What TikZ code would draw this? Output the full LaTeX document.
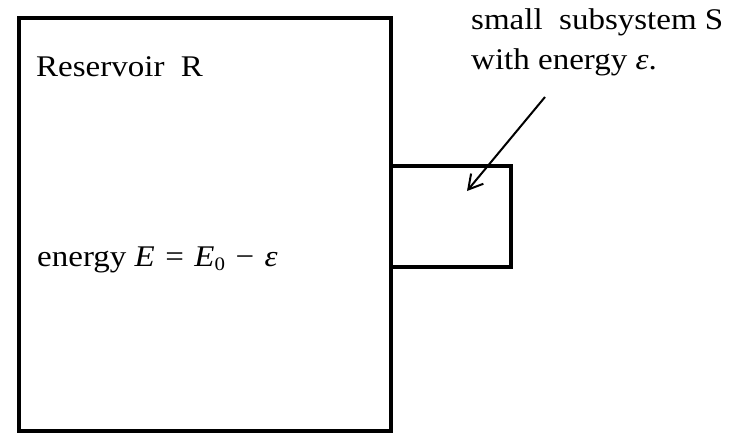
\documentclass[tikz,border=0pt]{standalone}
\usepackage{fontspec}
\setmainfont{Liberation Serif}[FakeStretch=1.1]
\usetikzlibrary{arrows.meta,positioning}

\newcommand{\opgap}{\hspace{0.35em}}

\begin{document}
\begin{tikzpicture}[
  x=1pt, y=-1pt,
  box/.style={draw=black, line width=4pt, inner sep=0pt},
  label/.style={anchor=base west, inner sep=0pt, font=\fontsize{30}{36}\selectfont},
  pointer/.style={-{Straight Barb[length=14pt, width=16pt, line width=2pt]}, draw=black, line width=2pt}
]
\useasboundingbox (0,0) rectangle (736,433);
\node[box, minimum width=372pt, minimum height=413pt] (reservoir) at (205,224.5) {};
\node[box, minimum width=120pt, minimum height=101pt] (subsystem) at (451,216.5) {};

\node[label] (reservoir-title) at (36,77) {Reservoir~~R};
\node[label] (energy-label) at (37,266) {energy \textit{E}\opgap=\opgap\textit{E}\raisebox{-0.35ex}{\fontsize{19}{19}\selectfont 0}\opgap−\opgap\textit{ε}};
\node[label] (subsystem-label) at (471,30) {small~~subsystem S};
\node[label] (subsystem-energy) at (471,70) {with energy \textit{ε}.};

\coordinate (pointer-start) at (545,97);
\coordinate (pointer-tip) at (467,191);
\draw[pointer] (pointer-start) -- (pointer-tip);
\end{tikzpicture}
\end{document}
